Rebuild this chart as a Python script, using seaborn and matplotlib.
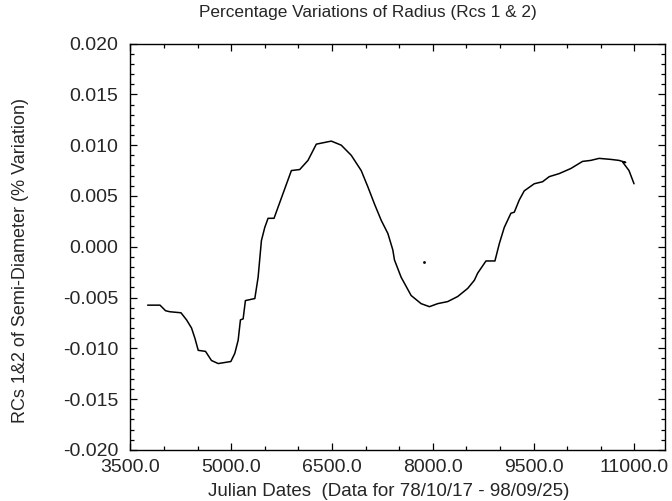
import seaborn as sns
import matplotlib.pyplot as plt
import matplotlib.ticker as mticker
import pandas as pd

# values
julian_dates = [3757, 3941, 4024, 4089, 4253, 4336, 4410, 4460, 4510, 4618,
                4707, 4807, 4995, 5054, 5104, 5138, 5178, 5212, 5352, 5401,
                5450, 5500, 5549, 5638, 5698, 5797, 5896, 6020, 6143, 6267,
                6490, 6638, 6787, 6935, 7034, 7133, 7233, 7332, 7405, 7430,
                7529, 7678, 7826, 7950, 8074, 8222, 8371, 8520, 8619, 8668,
                8792, 8925, 8990, 9064, 9163, 9213, 9287, 9361, 9510, 9634,
                9733, 9881, 10054, 10228, 10351, 10475, 10648, 10772, 10871,
                10830, 10920, 10995]
radius_variation = [-0.00575, -0.00575, -0.0063, -0.0064, -0.0065, -0.0072,
                    -0.0080, -0.0090, -0.0102, -0.0103, -0.0112, -0.0115,
                    -0.0113, -0.0105, -0.0092, -0.0072, -0.0071, -0.0053,
                    -0.0051, -0.0030, 0.0006, 0.0019, 0.0028, 0.0028, 0.0039,
                    0.0057, 0.0075, 0.0076, 0.0085, 0.0101, 0.0104, 0.0100,
                    0.0090, 0.0075, 0.0059, 0.0042, 0.0026, 0.0013, -0.0003,
                    -0.0013, -0.0030, -0.0048, -0.0056, -0.0059, -0.0056,
                    -0.0054, -0.0049, -0.0041, -0.0033, -0.0026, -0.0014,
                    -0.0014, 0.0003, 0.0019, 0.0033, 0.0034, 0.0046, 0.0055,
                    0.0062, 0.0064, 0.0069, 0.0072, 0.0077, 0.0084, 0.0085,
                    0.0087, 0.0086, 0.0085, 0.0083, 0.0083, 0.0075, 0.0062]
stray_date = [7876]
stray_value = [-0.0015]

x_major = [3500, 5000, 6500, 8000, 9500, 11000]
y_major = [-0.020, -0.015, -0.010, -0.005, 0.000, 0.005, 0.010, 0.015, 0.020]

df = pd.DataFrame({"date": julian_dates, "value": radius_variation})

sns.set_style("ticks")
plt.rcParams["font.family"] = ["Liberation Sans", "DejaVu Sans"]

fig = plt.figure(figsize=(6.72, 5.01), dpi=100)
ax = fig.add_axes([0.194, 0.102, 0.796, 0.811])

sns.lineplot(data=df, x="date", y="value", sort=False, color="black",
             linewidth=1.1, ax=ax)
ax.plot(stray_date, stray_value, marker="s", markersize=0.9, color="black",
        linestyle="none")

ax.set_xlim(3500, 11460)
ax.set_ylim(-0.020, 0.020)
ax.set_xticks(x_major)
ax.set_yticks(y_major)
ax.xaxis.set_major_formatter(mticker.FormatStrFormatter("%.1f"))
ax.yaxis.set_major_formatter(mticker.FormatStrFormatter("%.3f"))
ax.xaxis.set_minor_locator(mticker.MultipleLocator(500))
ax.yaxis.set_minor_locator(mticker.MultipleLocator(0.001))

ax.tick_params(which="both", direction="in", top=True, right=True,
               color="black", width=0.9)
ax.tick_params(which="major", length=5, labelsize=14)
ax.tick_params(axis="x", which="major", pad=6.5)
ax.tick_params(axis="y", which="major", pad=8.5)
ax.tick_params(which="minor", length=3)
for side in ax.spines.values():
    side.set_color("black")
    side.set_linewidth(1.0)

fig.text(0.548, 0.975, "Percentage Variations of Radius (Rcs 1 & 2)",
         fontsize=12.4, ha="center", va="center")
ax.set_xlabel("Julian Dates  (Data for 78/10/17 - 98/09/25)", fontsize=13.5)
ax.xaxis.set_label_coords(0.482, -0.082)
ax.set_ylabel("RCs 1&2 of Semi-Diameter (% Variation)", fontsize=13)
ax.yaxis.set_label_coords(-0.189, 0.467)

fig.savefig("out.png", dpi=100)
